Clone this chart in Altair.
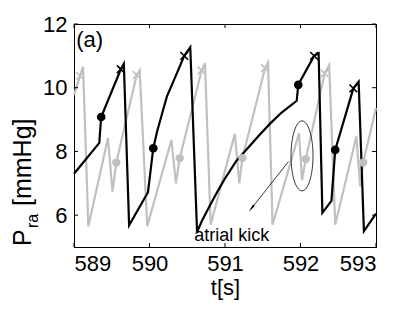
import altair as alt
import pandas as pd

# ---- data ----
black_t = [589.00, 589.335, 589.36, 589.62, 589.66, 589.73, 589.98, 590.05, 590.10, 590.18,
           590.23, 590.40, 590.46, 590.54, 590.63, 590.70, 590.80, 590.90, 591.00, 591.15,
           591.30, 591.45, 591.60, 591.75, 591.95, 591.97, 592.18, 592.24, 592.29, 592.41,
           592.46, 592.70, 592.77, 592.84, 593.00]
black_p = [7.30, 8.27, 9.08, 10.58, 10.75, 5.68, 6.72, 8.10, 8.62, 9.30,
           9.72, 10.66, 11.00, 11.27, 5.47, 5.85, 6.30, 6.74, 7.15, 7.70,
           8.10, 8.50, 8.88, 9.22, 9.59, 10.09, 11.00, 11.08, 6.07, 6.45,
           8.05, 9.98, 10.19, 5.50, 6.05]

gray_t = [589.00, 589.08, 589.12, 589.19, 589.45, 589.51, 589.56, 589.83, 589.87, 589.97,
          590.29, 590.35, 590.40, 590.69, 590.735, 590.81, 591.13, 591.19, 591.23, 591.53,
          591.57, 591.63, 591.98, 592.02, 592.07, 592.32, 592.38, 592.46, 592.74, 592.79,
          592.83, 593.00]
gray_p = [9.77, 10.37, 10.66, 5.65, 8.42, 6.74, 7.65, 10.40, 10.55, 5.65,
          8.36, 7.00, 7.79, 10.54, 10.77, 5.70, 8.55, 7.00, 7.79, 10.61,
          10.79, 5.70, 8.57, 7.10, 7.76, 10.45, 10.71, 5.70, 8.47, 6.90,
          7.65, 9.36]

black_dot_t = [589.36, 590.05, 591.97, 592.46]
black_dot_p = [9.08, 8.10, 10.09, 8.05]
black_x_t = [589.62, 590.46, 592.18, 592.70]
black_x_p = [10.58, 11.00, 11.00, 9.98]
gray_dot_t = [589.56, 590.40, 591.23, 592.07, 592.83]
gray_dot_p = [7.65, 7.79, 7.79, 7.76, 7.65]
gray_x_t = [589.08, 589.83, 590.69, 591.53, 592.32]
gray_x_p = [10.37, 10.40, 10.54, 10.61, 10.45]

x_ticks = [589, 590, 591, 592, 593]
y_ticks = [6, 8, 10, 12]

# annotations
ellipse_t, ellipse_p = [592.02], [7.86]
arrow_t, arrow_p, arrow_t2, arrow_p2 = [591.84], [7.68], [591.34], [6.18]
head_t, head_p = [591.36], [6.24]
kick_label_t, kick_label_p, kick_label = [591.09], [5.35], ["atrial kick"]
panel_t, panel_p, panel_label = [589.03], [11.5], ["(a)"]

W, H = 302, 223
FONT = "Liberation Sans"
GRAY = "#c0c0c0"

xs = alt.Scale(domain=[589, 593], nice=False, zero=False)
ys = alt.Scale(domain=[5, 12], nice=False, zero=False)

X_AXIS = alt.Axis(values=x_ticks, format="d", title="t[s]", labelPadding=6, titlePadding=3)
Y_AXIS = alt.Axis(values=y_ticks, format="d", title=None, labelPadding=7)

black_df = pd.DataFrame({"t": black_t, "p": black_p, "i": range(len(black_t))})
gray_df = pd.DataFrame({"t": gray_t, "p": gray_p, "i": range(len(gray_t))})

gray_line = alt.Chart(gray_df).mark_line(color=GRAY, strokeWidth=2.2).encode(
    x=alt.X("t:Q", scale=xs, axis=X_AXIS),
    y=alt.Y("p:Q", scale=ys, axis=Y_AXIS),
    order="i:Q",
)
black_line = alt.Chart(black_df).mark_line(color="black", strokeWidth=2.2).encode(
    x=alt.X("t:Q", scale=xs), y=alt.Y("p:Q", scale=ys), order="i:Q"
)

XSHAPE = "M -1 -1 L 1 1 M -1 1 L 1 -1"

def pts(t, p):
    return pd.DataFrame({"t": t, "p": p})

gray_dots = alt.Chart(pts(gray_dot_t, gray_dot_p)).mark_point(
    shape="circle", filled=True, color=GRAY, size=70, opacity=1
).encode(x="t:Q", y="p:Q")
gray_x = alt.Chart(pts(gray_x_t, gray_x_p)).mark_point(
    shape=XSHAPE, color=GRAY, size=60, strokeWidth=1.6, opacity=1
).encode(x="t:Q", y="p:Q")
black_dots = alt.Chart(pts(black_dot_t, black_dot_p)).mark_point(
    shape="circle", filled=True, color="black", size=75, opacity=1
).encode(x="t:Q", y="p:Q")
black_x = alt.Chart(pts(black_x_t, black_x_p)).mark_point(
    shape=XSHAPE, color="black", size=60, strokeWidth=1.6, opacity=1
).encode(x="t:Q", y="p:Q")

# ellipse annotation (symbol path made of 4 bezier arcs)
a = 11.0 / 35.0
k = 0.5523
ell_path = (f"M 0 -1 C {k*a:.4f} -1 {a:.4f} {-k:.4f} {a:.4f} 0 "
            f"C {a:.4f} {k:.4f} {k*a:.4f} 1 0 1 "
            f"C {-k*a:.4f} 1 {-a:.4f} {k:.4f} {-a:.4f} 0 "
            f"C {-a:.4f} {-k:.4f} {-k*a:.4f} -1 0 -1 Z")
ellipse = alt.Chart(pts(ellipse_t, ellipse_p)).mark_point(
    shape=ell_path, size=4900, color="black", strokeWidth=0.8, filled=False, opacity=1
).encode(x="t:Q", y="p:Q")

arrow_df = pd.DataFrame({"t": arrow_t, "p": arrow_p, "t2": arrow_t2, "p2": arrow_p2})
arrow = alt.Chart(arrow_df).mark_rule(color="black", strokeWidth=0.8).encode(
    x="t:Q", y="p:Q", x2="t2:Q", y2="p2:Q"
)
head = alt.Chart(pts(head_t, head_p)).mark_point(
    shape="wedge", size=90, filled=True, color="black", angle=218, opacity=1
).encode(x="t:Q", y="p:Q")

kick_text = alt.Chart(pd.DataFrame({"t": kick_label_t, "p": kick_label_p, "s": kick_label})).mark_text(
    font=FONT, fontSize=18, color="black", align="center", baseline="middle"
).encode(x="t:Q", y="p:Q", text="s:N")

panel_text = alt.Chart(pd.DataFrame({"t": panel_t, "p": panel_p, "s": panel_label})).mark_text(
    font=FONT, fontSize=22, color="black", align="left", baseline="middle"
).encode(x="t:Q", y="p:Q", text="s:N")

# inward ticks
xt = pd.DataFrame({"v": x_ticks})
yt = pd.DataFrame({"v": y_ticks})
tick_b = alt.Chart(xt).mark_rule(color="black", strokeWidth=1).encode(
    x="v:Q", y=alt.value(H), y2=alt.value(H - 4))
tick_t = alt.Chart(xt).mark_rule(color="black", strokeWidth=1).encode(
    x="v:Q", y=alt.value(0), y2=alt.value(4))
tick_l = alt.Chart(yt).mark_rule(color="black", strokeWidth=1).encode(
    y="v:Q", x=alt.value(0), x2=alt.value(4))
tick_r = alt.Chart(yt).mark_rule(color="black", strokeWidth=1).encode(
    y="v:Q", x=alt.value(W), x2=alt.value(W - 4))

# y-axis title P_ra [mmHg] built from pieces
ylab_P = alt.Chart(pd.DataFrame({"s": ["P"]})).mark_text(
    font=FONT, fontSize=25, angle=270, align="left", baseline="alphabetic", color="black"
).encode(x=alt.value(-43), y=alt.value(222), text="s:N")
ylab_ra = alt.Chart(pd.DataFrame({"s": ["ra"]})).mark_text(
    font=FONT, fontSize=16, angle=270, align="left", baseline="alphabetic", color="black"
).encode(x=alt.value(-36), y=alt.value(204), text="s:N")
ylab_unit = alt.Chart(pd.DataFrame({"s": ["[mmHg]"]})).mark_text(
    font=FONT, fontSize=25, angle=270, align="left", baseline="alphabetic", color="black"
).encode(x=alt.value(-43), y=alt.value(182), text="s:N")

chart = alt.layer(
    gray_line, black_line, gray_dots, gray_x, black_dots, black_x,
    ellipse, arrow, head, kick_text, panel_text,
    tick_b, tick_t, tick_l, tick_r, ylab_P, ylab_ra, ylab_unit,
).properties(
    width=W, height=H,
    autosize=alt.AutoSizeParams(type="none"),
    padding={"left": 66, "top": 16, "right": 30, "bottom": 55},
).configure(
    font=FONT,
).configure_view(
    stroke="black", strokeWidth=1
).configure_axis(
    labelFont=FONT, titleFont=FONT, labelFontSize=22, titleFontSize=22,
    labelColor="black", titleColor="black", titleFontWeight="normal",
    domainColor="black", domainWidth=1, ticks=False, grid=False,
)

chart.save("out.html", embed_options={"renderer": "svg", "actions": False})
